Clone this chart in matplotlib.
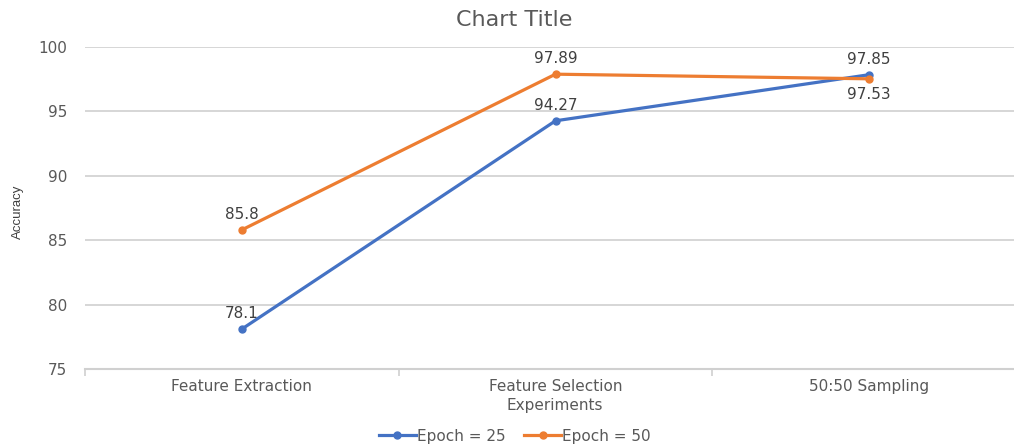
import matplotlib
matplotlib.use("Agg")
import matplotlib.pyplot as plt
from matplotlib.ticker import FixedLocator

plt.rcParams['font.family'] = ['DejaVu Sans']

categories = ["Feature Extraction", "Feature Selection", "50:50 Sampling"]
epoch25 = [78.1, 94.27, 97.85]
epoch50 = [85.8, 97.89, 97.53]
series_names = ["Epoch = 25", "Epoch = 50"]
y_ticks = [75, 80, 85, 90, 95, 100]

BLUE = "#4472C4"
ORANGE = "#ED7D31"
TEXT = "#595959"
GRID = "#D0D0D0"
FS = 11

fig = plt.figure(figsize=(10.14, 4.44), dpi=100)
ax = fig.add_axes([85 / 1014, 75 / 444, 941 / 1014, 322 / 444])

x = list(range(len(categories)))
l1, = ax.plot(x, epoch25, color=BLUE, lw=2.3, marker='o', ms=5, label=series_names[0], zorder=3)
l2, = ax.plot(x, epoch50, color=ORANGE, lw=2.3, marker='o', ms=5, label=series_names[1], zorder=4)

ax.set_xlim(-0.5, 2.5)
ax.set_ylim(75, 100)
ax.set_yticks(y_ticks)
ax.set_xticks(x)
ax.set_xticklabels(categories)
ax.xaxis.set_minor_locator(FixedLocator([-0.5, 0.5, 1.5, 2.5]))

ax.grid(axis='y', color=GRID, lw=1.2, zorder=0)
for s in ['top', 'right', 'left']:
    ax.spines[s].set_visible(False)
ax.spines['bottom'].set_color(GRID)
ax.spines['bottom'].set_linewidth(1.5)
ax.tick_params(axis='y', length=0, pad=13, labelsize=FS, labelcolor=TEXT)
ax.tick_params(axis='x', which='major', length=0, pad=7, labelsize=FS, labelcolor=TEXT)
ax.tick_params(axis='x', which='minor', length=5, width=1.2, color=GRID)

# value labels: above the point, except the last Epoch = 50 value which sits below
offsets25 = [11, 11, 11]
offsets50 = [11, 11, -11]
for xi, v, dy in zip(x, epoch25, offsets25):
    ax.annotate(f"{v:g}", (xi, v), xytext=(0, dy), textcoords='offset points',
                ha='center', va='center', fontsize=FS, color="#404040")
for xi, v, dy in zip(x, epoch50, offsets50):
    ax.annotate(f"{v:g}", (xi, v), xytext=(0, dy), textcoords='offset points',
                ha='center', va='center', fontsize=FS, color="#404040")

fig.text(514 / 1014, 1 - 20 / 444, "Chart Title", ha='center', va='center',
         fontsize=16, color=TEXT)
fig.text(555 / 1014, 1 - 405 / 444, "Experiments", ha='center', va='center',
         fontsize=FS, color=TEXT)
fig.text(18 / 1014, 1 - 212 / 444, "Accuracy", ha='center', va='center',
         rotation=90, fontsize=9.5, color="#404040",
         family=['Liberation Sans Narrow', 'Liberation Sans', 'DejaVu Sans'])

fig.legend(handles=[l1, l2], loc='center', bbox_to_anchor=(515 / 1014, 1 - 436 / 444),
           ncol=2, frameon=False, fontsize=FS, labelcolor=TEXT, handlelength=2.4,
           handletextpad=0.1, columnspacing=1.2)

fig.savefig("out.png", dpi=100)
